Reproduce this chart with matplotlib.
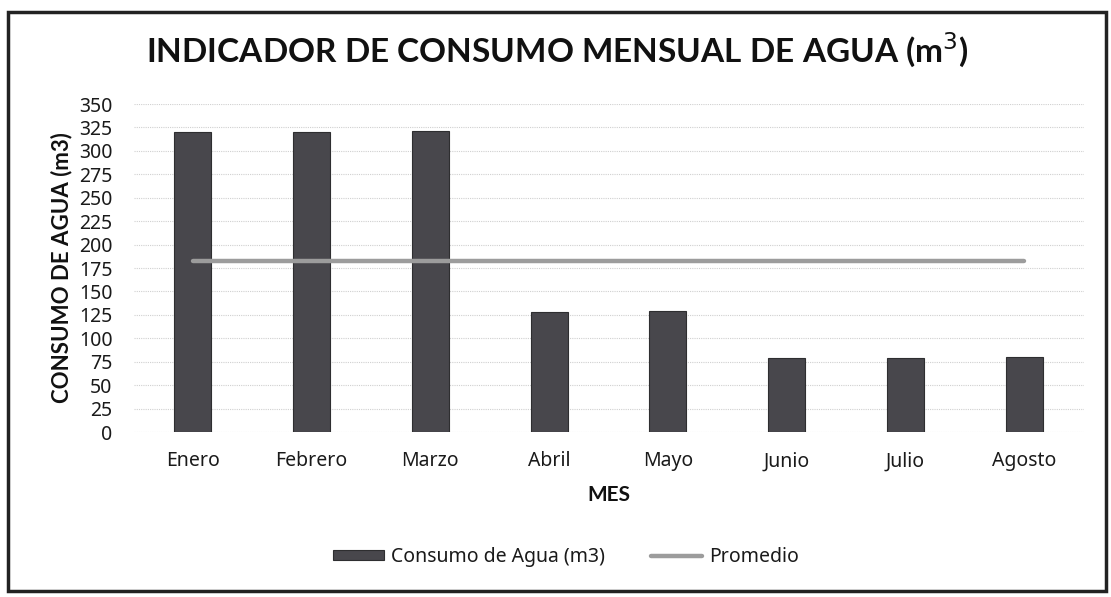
import matplotlib
matplotlib.use("Agg")
import matplotlib.pyplot as plt
from matplotlib.patches import Rectangle

meses = ["Enero", "Febrero", "Marzo", "Abril", "Mayo", "Junio", "Julio", "Agosto"]
consumo = [320, 320, 321, 128, 129, 79, 79, 80]
promedio = [182, 182, 182, 182, 182, 182, 182, 182]
y_ticks = list(range(0, 351, 25))

plt.rcParams['font.family'] = ['Noto Sans', 'DejaVu Sans']
BOLD = ['Lato', 'DejaVu Sans']

fig = plt.figure(figsize=(11.11, 5.97), dpi=100)
W, H = 1111, 597
ax = fig.add_axes([133.5 / W, 1 - 432 / H, (1083.5 - 133.5) / W, (432 - 104) / H])

x = list(range(len(meses)))
bars = ax.bar(x, consumo, width=0.31, color="#48474c", edgecolor="#2e2e30", linewidth=0.8,
              label="Consumo de Agua (m3)", zorder=2)
line, = ax.plot(x, promedio, color="#9c9c9c", linewidth=3.2, solid_capstyle="round",
                label="Promedio", zorder=3)

ax.set_xlim(-0.5, len(meses) - 0.5)
ax.set_ylim(0, 350)
ax.set_yticks(y_ticks)
ax.set_yticklabels([str(v) for v in y_ticks], fontsize=14, color="#1a1a1a")
ax.set_xticks(x)
ax.set_xticklabels(meses, fontsize=14, color="#1a1a1a")
ax.tick_params(axis="both", length=0)
ax.tick_params(axis="x", pad=14)
ax.tick_params(axis="y", pad=15)
ax.grid(axis="y", color="#d0d0d0", linewidth=0.8, linestyle=(0, (1, 1)), zorder=0)
for s in ax.spines.values():
    s.set_visible(False)

ax.set_xlabel("MES", fontsize=15, fontweight="bold", family=BOLD, color="#111111", labelpad=10)
ax.set_ylabel("CONSUMO DE AGUA (m3)", fontsize=16, fontweight="bold", family=BOLD,
              color="#111111", labelpad=5)

fig.text(557 / W, 1 - 50 / H, "INDICADOR DE CONSUMO MENSUAL DE AGUA (m$^3$)",
         ha="center", va="center", fontsize=24, fontweight="bold", family=BOLD, color="#111111")

leg = fig.legend([bars, line], ["Consumo de Agua (m3)", "Promedio"], loc="center",
                 bbox_to_anchor=(566 / W, 1 - 557 / H), ncol=2, frameon=False,
                 fontsize=14, handlelength=2.6, handleheight=0.4, handletextpad=0.35,
                 columnspacing=2.4)
for t in leg.get_texts():
    t.set_color("#1a1a1a")

fig.patches.append(Rectangle((8 / W, 1 - 591 / H), (1106 - 8) / W, (591 - 12) / H,
                             transform=fig.transFigure, fill=False, edgecolor="#222222",
                             linewidth=2.5))

fig.savefig("out.png", dpi=100, facecolor="white")
